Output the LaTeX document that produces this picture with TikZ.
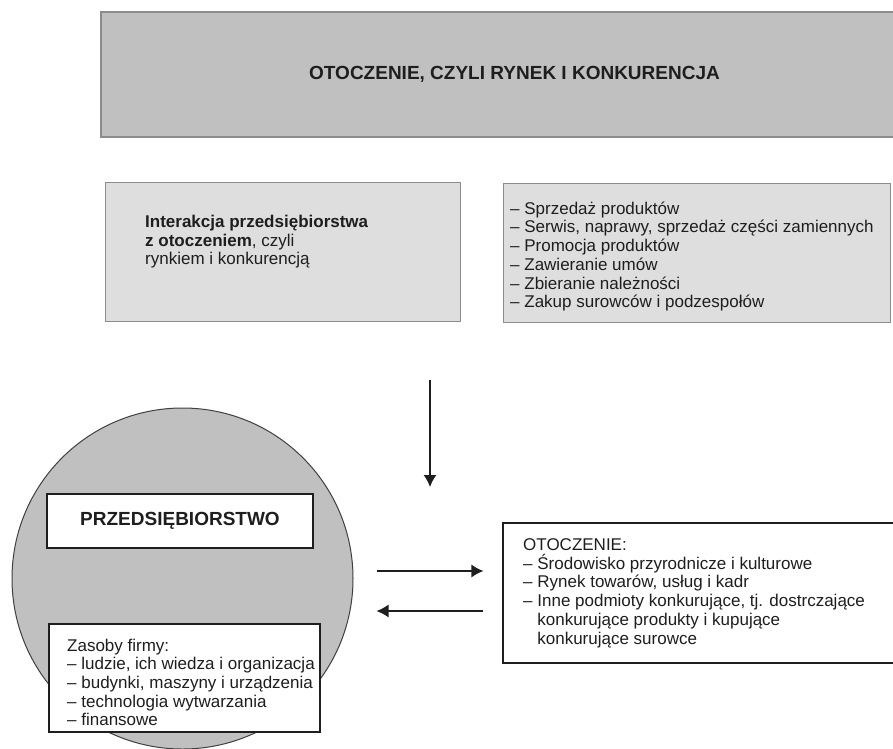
\documentclass[tikz,border=0pt]{standalone}
\usepackage{fontspec}
\setmainfont{Liberation Sans}
\usetikzlibrary{arrows.meta,positioning}
\definecolor{ink}{HTML}{1E1E1E}
\definecolor{edge}{HTML}{8C8C8C}
\definecolor{darkbg}{HTML}{C0C0C0}
\definecolor{lightbg}{HTML}{DEDEDE}
\tikzset{
  every node/.style={font=\fontsize{17}{18.7}\selectfont, text=ink},
  panel/.style={draw=edge, line width=1.2pt, fill=darkbg, inner sep=0pt},
  greybox/.style={draw=edge, line width=1pt, fill=lightbg, inner sep=0pt},
  box/.style={draw=ink, line width=1.1pt, fill=white, inner sep=0pt},
  firmdisc/.style={circle, draw=ink!85, line width=1pt, fill=darkbg, inner sep=0pt},
  txt/.style={anchor=north west, inner sep=0pt, align=left},
  head/.style={font=\fontsize{19}{22}\selectfont\bfseries},
  arr/.style={-{Latex[length=12pt, width=13pt]}, line width=1.3pt, draw=ink},
}

\begin{document}
\begin{tikzpicture}[x=1pt, y=-1pt]
\useasboundingbox (0,0) rectangle (893,748);

% --- market panel on top ---
\node[panel, head, minimum width=827pt, minimum height=125pt] (market) at (514.5,74.5)
  {OTOCZENIE, CZYLI RYNEK I KONKURENCJA};

% --- interaction row ---
\node[greybox, minimum width=355pt, minimum height=139pt] (interact) at (282.5,251.5) {};
\node[txt] (interacttxt) at (145,215)
  {\textbf{Interakcja przedsiębiorstwa}\\ \textbf{z otoczeniem}, czyli\\ rynkiem i konkurencją};

\node[greybox, minimum width=387pt, minimum height=139pt] (tasks) at (696.5,252.5) {};
\node[txt] (taskstxt) at (510,201.5)
  {– Sprzedaż produktów\\ – Serwis, naprawy, sprzedaż części zamiennych\\
   – Promocja produktów\\ – Zawieranie umów\\ – Zbieranie należności\\
   – Zakup surowców i podzespołów};

% --- the firm ---
\node[firmdisc, minimum size=341pt] (firm) at (182.5,578.5) {};
\node[box, head, minimum width=266pt, minimum height=54pt] (firmname) at (180,521)
  {PRZEDSIĘBIORSTWO};
\node[box, minimum width=271pt, minimum height=108pt] (assets) at (184.5,678) {};
\node[txt] (assetstxt) at (67,638.5)
  {Zasoby firmy:\\ – ludzie, ich wiedza i organizacja\\ – budynki, maszyny i urządzenia\\
   – technologia wytwarzania\\ – finansowe};

% --- environment box ---
\node[box, minimum width=397pt, minimum height=140pt] (env) at (701.5,593) {};
\node[txt] (envtxt) at (523,538.5)
  {OTOCZENIE:\\ – Środowisko przyrodnicze i kulturowe\\ – Rynek towarów, usług i kadr\\
   – Inne podmioty konkurujące, tj. dostrczające\\
   \hphantom{– }konkurujące produkty i kupujące\\ \hphantom{– }konkurujące surowce};

% --- arrows ---
\coordinate (flowtop) at (430,380);
\coordinate (flowtip) at (430,487);
\draw[arr] (flowtop) -- (flowtip);
\draw[arr, shorten <=23pt, shorten >=19pt] ([yshift=7.5pt]firm.east) -- ([yshift=7.5pt]firm.east -| env.west);
\draw[arr, shorten <=19pt, shorten >=23pt] ([yshift=-32.5pt]firm.east -| env.west) -- ([yshift=-32.5pt]firm.east);

\end{tikzpicture}
\end{document}
